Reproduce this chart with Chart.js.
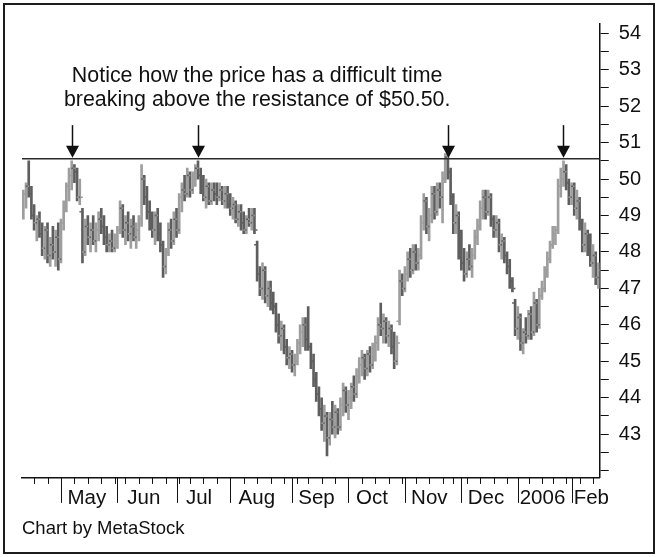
<!DOCTYPE html>
<html lang="en">
<head>
    <meta charset="UTF-8">
    <title>Resistance at $50.50</title>
    <script src="https://cdn.jsdelivr.net/npm/chart.js"></script>
    <style>
        body { margin: 0; background: #fff; }
        #wrap { position: relative; width: 661px; height: 557px; }
        #frame { position: absolute; left: 3px; top: 3px; width: 648px; height: 547px; border: 2px solid #1c1c1c; pointer-events: none; }
    </style>
</head>
<body>
<div id="wrap">
    <canvas id="priceChart"></canvas>
    <div id="frame"></div>
</div>
<script>
    // Daily bars, 11 Apr 2005 .. 14 Feb 2006 (one entry per trading day)
    const open = [
        49.3,49.6,49.8,49.6,49.0,48.8,48.9,48.5,48.1,48.6, 47.9,48.2,48.0,48.4,47.8,48.8,49.3,49.8,50.1,50.3,
        50.2,49.5,49.1,48.0,48.7,48.4,48.6,48.3,48.6,48.9, 48.7,48.4,48.2,48.3,48.1,48.3,48.6,49.2,48.6,48.8,
        48.5,48.7,48.4,48.6,48.9,50.0,49.5,49.1,48.8,48.6, 49.0,48.5,48.2,47.6,48.0,48.6,48.3,48.9,48.6,49.5,
        49.7,49.6,50.1,49.7,50.1,50.3,50.1,49.8,49.5,49.8, 49.4,49.7,49.6,49.5,49.7,49.4,49.6,49.3,49.2,49.3,
        48.9,49.1,48.8,48.6,48.9,48.8,49.0,48.2,47.4,47.0, 47.5,46.8,47.0,46.6,46.5,46.0,45.7,45.9,45.4,45.1,
        45.2,44.9,45.0,45.5,45.8,46.0,45.6,45.4,45.0,44.5, 44.1,43.7,43.3,43.5,42.9,43.4,43.2,43.6,43.2,43.8,
        44.2,43.8,44.0,44.3,44.1,44.6,44.9,45.1,44.8,45.2, 44.9,45.3,45.5,46.0,45.9,46.1,45.7,45.9,45.4,45.0,
        46.1,47.2,47.0,47.4,47.8,47.5,48.0,47.7,47.9,48.8, 49.4,48.7,49.0,49.6,49.1,49.7,49.5,50.0,50.6,50.2,
        49.5,48.8,49.0,48.0,47.7,47.4,47.8,47.6,47.9,48.4, 48.7,49.2,49.5,49.1,49.5,48.9,48.6,48.8,48.2,48.3,
        47.9,47.6,47.2,46.6,45.9,46.2,45.5,45.8,45.7,46.3, 45.8,46.6,46.0,46.8,47.0,47.5,47.8,48.2,48.5,48.6,
        49.8,50.0,50.2,49.9,49.5,49.8,49.2,49.4,48.8,48.2, 48.5,48.1,47.7,47.9,47.3
    ];
    const high = [
        49.7,49.9,50.5,49.8,49.3,49.0,49.1,48.8,48.7,48.8, 48.4,48.7,48.6,48.8,48.9,49.4,49.9,50.3,50.5,50.4,
        50.3,50.0,49.2,48.9,49.0,48.8,49.0,48.8,49.1,49.2, 49.0,48.7,48.5,48.6,48.5,48.7,49.4,49.3,49.0,49.1,
        48.9,49.0,48.8,49.0,50.4,50.1,49.8,49.4,49.1,49.1, 49.2,48.8,48.3,48.1,48.8,48.9,49.1,49.2,49.6,49.9,
        50.1,50.3,50.2,50.2,50.4,50.5,50.3,50.1,50.0,49.9, 49.9,49.9,49.9,49.9,49.8,49.8,49.8,49.6,49.5,49.4,
        49.3,49.3,49.1,49.0,49.2,49.2,49.2,48.3,47.6,47.7, 47.6,47.2,47.2,46.9,46.6,46.3,46.1,46.0,45.6,45.4,
        45.3,45.2,45.6,46.0,46.2,46.2,46.5,45.5,45.2,44.7, 44.3,44.0,43.8,43.6,43.6,43.9,43.8,43.7,44.0,44.4,
        44.3,44.2,44.4,44.6,44.8,45.1,45.3,45.2,45.3,45.4, 45.5,45.7,46.2,46.6,46.3,46.2,46.1,46.0,45.8,45.7,
        47.5,47.4,47.6,48.0,48.1,48.2,48.2,48.1,49.0,49.6, 49.5,49.2,49.8,49.8,49.9,49.9,50.2,50.7,50.7,50.3,
        49.6,49.3,49.1,48.6,48.1,48.0,48.2,48.1,48.6,48.9, 49.4,49.7,49.7,49.7,49.6,49.0,49.0,48.9,48.5,48.4,
        48.0,47.8,47.3,46.7,46.5,46.3,45.9,46.2,46.4,46.5, 46.9,46.7,47.0,47.2,47.6,48.0,48.3,48.7,48.7,50.0,
        50.3,50.5,50.4,50.0,49.9,49.9,49.7,49.5,48.9,48.8, 48.6,48.5,48.2,48.0,47.7
    ];
    const low = [
        48.9,49.2,49.5,48.9,48.6,48.3,48.4,47.9,47.8,47.7, 47.6,47.8,47.6,47.5,47.7,48.6,49.1,49.4,49.7,49.9,
        49.4,49.3,47.7,47.9,48.2,48.0,48.2,48.0,48.3,48.5, 48.2,48.0,48.0,48.0,48.0,48.1,48.5,48.4,48.2,48.3,
        48.1,48.3,48.1,48.3,48.7,49.3,48.9,48.6,48.4,48.2, 48.3,48.0,47.3,47.4,47.9,48.1,48.2,48.4,48.5,49.1,
        49.4,49.5,49.5,49.6,49.8,50.0,49.6,49.4,49.2,49.3, 49.3,49.4,49.3,49.4,49.3,49.2,49.2,49.0,48.9,48.8,
        48.7,48.6,48.5,48.5,48.7,48.6,48.5,47.2,46.8,46.7, 46.6,46.5,46.4,46.3,45.8,45.5,45.3,45.2,44.9,44.8,
        44.7,44.6,44.9,45.2,45.4,45.3,45.3,44.8,44.3,43.9, 43.5,43.1,42.8,42.4,42.7,43.0,42.9,43.0,43.1,43.5,
        43.6,43.4,43.7,43.9,44.0,44.4,44.6,44.5,44.6,44.7, 44.8,45.0,45.3,45.7,45.5,45.5,45.4,45.2,44.8,44.9,
        46.0,46.8,46.9,47.2,47.3,47.4,47.5,47.5,47.8,48.6, 48.5,48.3,48.8,48.9,49.0,49.2,48.8,49.9,50.0,49.3,
        48.5,48.5,47.8,47.5,47.2,47.3,47.5,47.3,47.8,48.2, 48.6,48.9,48.9,49.0,48.7,48.4,48.4,48.0,47.8,47.7,
        47.4,47.0,46.9,45.7,45.6,45.3,45.2,45.5,45.6,45.6, 45.7,45.8,45.9,46.7,46.9,47.3,47.7,48.1,48.2,48.5,
        49.5,49.8,49.7,49.3,49.3,49.0,48.9,48.6,48.0,48.0, 47.9,47.6,47.3,47.1,47.0
    ];
    const close = [
        49.6,49.8,49.6,49.0,48.8,48.9,48.5,48.1,48.6,47.9, 48.2,48.0,48.4,47.8,48.8,49.3,49.8,50.1,50.3,50.2,
        49.5,49.5,48.0,48.7,48.4,48.6,48.3,48.6,48.9,48.7, 48.4,48.2,48.3,48.1,48.3,48.6,49.2,48.6,48.8,48.5,
        48.7,48.4,48.6,48.9,50.0,49.5,49.1,48.8,48.6,49.0, 48.5,48.2,47.6,48.0,48.6,48.3,48.9,48.6,49.5,49.7,
        49.6,50.1,49.7,50.1,50.3,50.1,49.8,49.5,49.8,49.4, 49.7,49.6,49.5,49.7,49.4,49.6,49.3,49.2,49.3,48.9,
        49.1,48.8,48.6,48.9,48.8,49.0,48.6,47.4,47.0,47.5, 46.8,47.0,46.6,46.5,46.0,45.7,45.9,45.4,45.1,45.2,
        44.9,45.0,45.5,45.8,46.0,45.6,45.4,45.0,44.5,44.1, 43.7,43.3,43.5,42.9,43.4,43.2,43.6,43.2,43.8,44.2,
        43.8,44.0,44.3,44.1,44.6,44.9,45.1,44.8,45.2,44.9, 45.3,45.5,46.0,45.9,46.1,45.7,45.9,45.4,45.0,45.5,
        47.2,47.0,47.4,47.8,47.5,48.0,47.7,47.9,48.8,49.4, 48.7,49.0,49.6,49.1,49.7,49.5,50.0,50.6,50.2,49.5,
        48.8,49.0,48.0,47.7,47.4,47.8,47.6,47.9,48.4,48.7, 49.2,49.5,49.1,49.5,48.9,48.6,48.8,48.2,48.3,47.9,
        47.6,47.2,47.0,45.9,46.2,45.5,45.8,45.7,46.3,45.8, 46.6,46.0,46.8,47.0,47.5,47.8,48.2,48.5,48.6,49.8,
        50.0,50.2,49.9,49.5,49.8,49.2,49.4,48.8,48.2,48.5, 48.1,47.7,47.9,47.3,47.5
    ];

    // first trading day of each month (long tick sits on the bar before it)
    const monthStart = [15, 36, 58, 78, 101, 122, 143, 164, 185, 205];
    // month labels and the bar position where each label starts
    const monthLabel = ['May', 'Jun', 'Jul', 'Aug', 'Sep', 'Oct', 'Nov', 'Dec', '2006', 'Feb'];
    const labelAt = [16.4, 38.7, 60.5, 80.1, 102.3, 123.8, 144.3, 165.4, 184.7, 204.8];
    // first trading day of the other weeks (short ticks)
    const weekStart = [5, 10, 20, 25, 30, 35, 39, 44, 49, 54, 59, 63, 68, 73, 83, 88, 93, 98,
        103, 107, 112, 117, 127, 132, 137, 142, 147, 152, 157, 161, 166, 171, 176, 181,
        189, 194, 198, 203, 208, 213];

    const resistance = 50.56;
    const arrowAt = [18, 65, 158, 201];   // the four tests of resistance
    const arrowFrom = 51.48;
    const noteLines = ['Notice how the price has a difficult time', 'breaking above the resistance of $50.50.'];
    const noteAt = 87;
    const noteBaseline = [52.67, 52.0];

    const N = close.length;
    const FONT = '"Liberation Sans", Arial, sans-serif';
    const INK = '#111';
    const UP = '#9e9e9e', DOWN = '#5e5e5e';
    const colorOf = i => close[i] >= open[i] ? UP : DOWN;

    // month and week ticks under the axis, arrows and the note
    const notes = {
        id: 'notes',
        afterDraw(chart) {
            const {ctx, chartArea, scales: {x, y}} = chart;
            ctx.save();
            ctx.strokeStyle = INK;
            ctx.fillStyle = INK;

            ctx.lineWidth = 1;
            const tick = (i, len) => {
                const px = Math.round(x.getPixelForValue(i - 1)) + 0.5;
                ctx.beginPath();
                ctx.moveTo(px, chartArea.bottom);
                ctx.lineTo(px, chartArea.bottom + len);
                ctx.stroke();
            };
            weekStart.forEach(i => tick(i, 6));
            monthStart.forEach(i => tick(i, 25));

            const tip = y.getPixelForValue(resistance) - 1;
            arrowAt.forEach(i => {
                const px = Math.round(x.getPixelForValue(i)) + 0.5;
                ctx.lineWidth = 1.5;
                ctx.beginPath();
                ctx.moveTo(px, y.getPixelForValue(arrowFrom));
                ctx.lineTo(px, tip - 8);
                ctx.stroke();
                ctx.beginPath();
                ctx.moveTo(px - 6.5, tip - 12);
                ctx.lineTo(px + 6.5, tip - 12);
                ctx.lineTo(px, tip);
                ctx.closePath();
                ctx.fill();
            });

            ctx.font = '21.4px ' + FONT;
            ctx.textAlign = 'center';
            ctx.textBaseline = 'alphabetic';
            noteLines.forEach((t, k) => ctx.fillText(t, x.getPixelForValue(noteAt), y.getPixelForValue(noteBaseline[k])));
            ctx.restore();
        }
    };

    const ctx = document.getElementById('priceChart').getContext('2d');
    new Chart(ctx, {
        type: 'bar',
        data: {
            datasets: [
                {
                    // high-low range of each day
                    type: 'bar',
                    data: high.map((h, i) => ({x: i, y: [low[i], h]})),
                    backgroundColor: c => colorOf(c.dataIndex),
                    barThickness: 2,
                    borderWidth: 0,
                    order: 3
                },
                {
                    // open tick, left side
                    type: 'line',
                    data: open.map((v, i) => ({x: i - 0.75, y: v})),
                    showLine: false,
                    pointStyle: 'line',
                    pointRadius: 1,
                    pointBorderWidth: 1.5,
                    pointBorderColor: c => colorOf(c.dataIndex),
                    order: 2
                },
                {
                    // close tick, right side
                    type: 'line',
                    data: close.map((v, i) => ({x: i + 0.75, y: v})),
                    showLine: false,
                    pointStyle: 'line',
                    pointRadius: 1,
                    pointBorderWidth: 1.5,
                    pointBorderColor: c => colorOf(c.dataIndex),
                    order: 2
                },
                {
                    type: 'line',
                    data: [{x: -0.5, y: resistance}, {x: N - 0.5, y: resistance}],
                    borderColor: '#2a2a2a',
                    borderWidth: 1.5,
                    pointRadius: 0,
                    order: 1
                }
            ]
        },
        options: {
            responsive: true,
            maintainAspectRatio: false,
            animation: false,
            events: [],
            layout: {padding: {left: 22, top: 24, right: 10, bottom: 19}},
            plugins: {
                legend: {display: false},
                tooltip: {enabled: false},
                title: {
                    display: true,
                    position: 'bottom',
                    align: 'start',
                    text: 'Chart by MetaStock',
                    color: INK,
                    font: {family: FONT, size: 18.5, weight: 'normal', lineHeight: 1},
                    padding: {top: 1, bottom: 0}
                }
            },
            scales: {
                x: {
                    type: 'linear',
                    min: -0.5,
                    max: N - 0.5,
                    offset: false,
                    afterBuildTicks: axis => { axis.ticks = labelAt.map(v => ({value: v})); },
                    grid: {drawOnChartArea: false, drawTicks: false, offset: false},
                    border: {color: INK, width: 1.5},
                    ticks: {
                        align: 'start',
                        padding: 8,
                        autoSkip: false,
                        maxRotation: 0,
                        color: INK,
                        font: {family: FONT, size: 20.5},
                        callback: (v, k) => monthLabel[k]
                    }
                },
                y: {
                    position: 'right',
                    min: 41.8,
                    max: 54.255,
                    grid: {drawOnChartArea: false, tickLength: 9, color: INK},
                    border: {color: INK, width: 1.5},
                    ticks: {
                        stepSize: 0.5,
                        includeBounds: false,
                        autoSkip: false,
                        padding: 10,
                        color: INK,
                        font: {family: FONT, size: 20},
                        callback: v => (v % 1 === 0 && v >= 43) ? String(v) : ''
                    }
                }
            }
        },
        plugins: [notes]
    });
</script>
</body>
</html>
